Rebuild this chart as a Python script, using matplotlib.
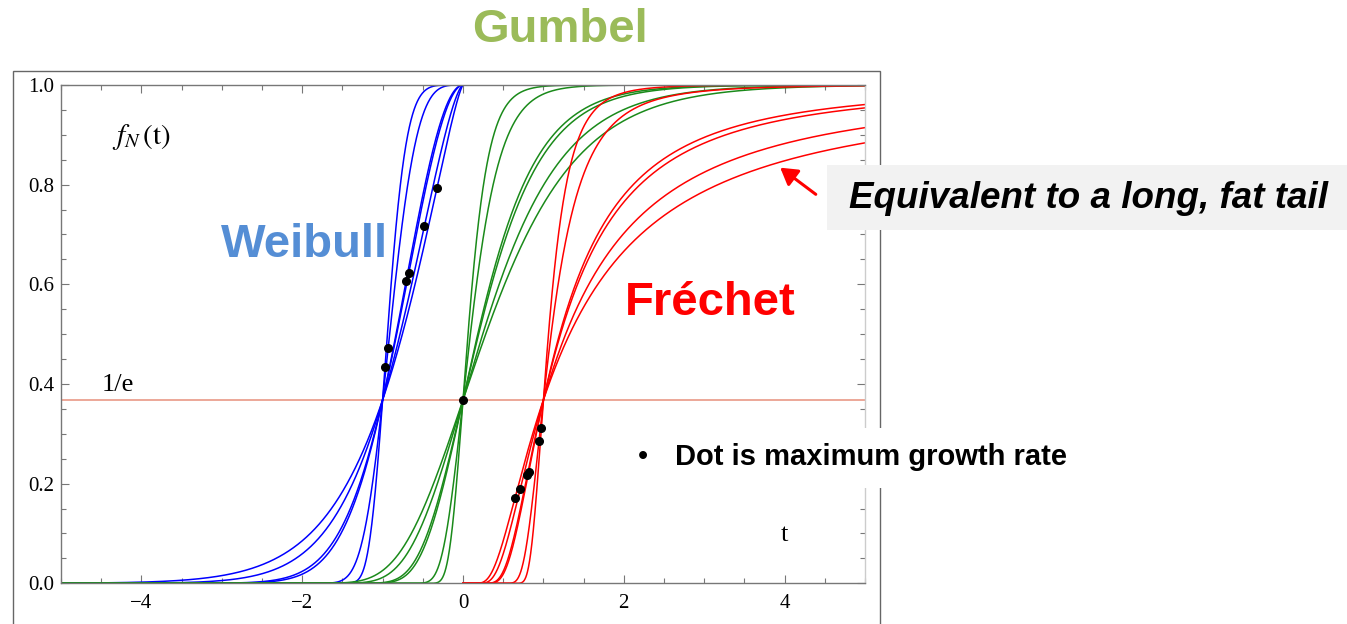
import numpy as np
import matplotlib
matplotlib.use("Agg")
import matplotlib.pyplot as plt
from matplotlib.patches import Rectangle, FancyArrowPatch

weibull_alpha = [1.3, 1.5, 1.9, 2.0, 4.0, 6.0]
gumbel_beta = [0.77, 0.67, 0.53, 0.5, 0.25, 0.17]
frechet_alpha = [1.3, 1.5, 1.9, 2.0, 4.0, 6.0]

x_major = [-4, -2, 0, 2, 4]
y_major = [0.0, 0.2, 0.4, 0.6, 0.8, 1.0]
inv_e = np.exp(-1)

plt.rcParams["mathtext.fontset"] = "stix"
serif = "Liberation Serif"
sans = "Liberation Sans"

fig = plt.figure(figsize=(13.47, 6.24), dpi=100)
ax = fig.add_axes([61 / 1347, 1 - 583.3 / 624, 804 / 1347, 498.3 / 624])

# outer picture frame
fig.add_artist(Rectangle((13 / 1347, -0.1), 867 / 1347, 0.1 + 1 - 71 / 624,
                         transform=fig.transFigure, fill=False,
                         edgecolor="#666666", lw=1.0, zorder=0))

blue, green, red = "#0000ff", "#1a8a1a", "#ff0000"
lw = 1.1

ax.axhline(inv_e, color="#eaa090", lw=1.3, zorder=1)

t_w = np.linspace(-5, 0, 1500)
for a in weibull_alpha:
    ax.plot(t_w, np.exp(-(-t_w) ** a), color=blue, lw=lw, zorder=2)

t_g = np.linspace(-5, 5, 3000)
for b in gumbel_beta:
    ax.plot(t_g, np.exp(-np.exp(-t_g / b)), color=green, lw=lw, zorder=2)

t_f = np.linspace(0.005, 5, 1500)
for a in frechet_alpha:
    tt = np.concatenate([[0.0], t_f])
    ff = np.concatenate([[0.0], np.exp(-t_f ** (-a))])
    ax.plot(tt, ff, color=red, lw=lw, zorder=2)

# dots at maximum growth rate
wa = np.array(weibull_alpha)
fa = np.array(frechet_alpha)
dot_t = np.concatenate([-((wa - 1) / wa) ** (1 / wa), [0.0], (fa / (1 + fa)) ** (1 / fa)])
dot_f = np.concatenate([np.exp(-(wa - 1) / wa), [inv_e], np.exp(-(1 + fa) / fa)])
ax.plot(dot_t, dot_f, "o", color="black", ms=5.5, zorder=4, clip_on=False)

ax.set_xlim(-5, 5)
ax.set_ylim(0, 1)
ax.set_xticks(x_major)
ax.set_xticks(np.arange(-5, 5.01, 0.5), minor=True)
ax.set_yticks(y_major)
ax.set_yticks(np.arange(0, 1.001, 0.05), minor=True)
ax.set_yticklabels([f"{v:.1f}" for v in y_major])
ax.tick_params(which="both", direction="in", top=True, right=True,
               color="#777777", width=0.8, labelcolor="black")
ax.tick_params(which="major", length=6)
ax.tick_params(which="minor", length=3.5)
ax.tick_params(axis="x", pad=8)
ax.tick_params(axis="y", pad=5)
for lab in ax.get_xticklabels() + ax.get_yticklabels():
    lab.set_fontfamily(serif)
    lab.set_fontsize(15)
for side in ["left", "bottom", "top"]:
    ax.spines[side].set_color("#777777")
    ax.spines[side].set_linewidth(1.0)
ax.spines["right"].set_color("#cccccc")
ax.spines["right"].set_linewidth(1.0)
for s in ax.spines.values():
    s.set_zorder(3)

ax.text(-4.5, 0.398, "1/e", fontfamily=serif, fontsize=19, va="center", ha="left")
ax.text(-4.36, 0.895, r"$f_N\,(\mathrm{t})$", fontsize=21, va="center", ha="left")
ax.text(4.0, 0.097, "t", fontfamily=serif, fontsize=19, va="center", ha="center")

# annotations around the plot
fig.text(560 / 1347, 1 - 30 / 624, "Gumbel", fontfamily=sans, fontweight="bold",
         fontsize=34, color="#9bbb59", ha="center", va="center")
fig.text(305 / 1347, 1 - 245 / 624, "Weibull", fontfamily=sans, fontweight="bold",
         fontsize=34, color="#558ed5", ha="center", va="center", zorder=5)
fig.text(710 / 1347, 1 - 303 / 624, "Fréchet", fontfamily=sans, fontweight="bold",
         fontsize=34, color="#ff0000", ha="center", va="center", zorder=5)

fig.add_artist(Rectangle((827 / 1347, 1 - 230 / 624), 520 / 1347, 65 / 624,
                         transform=fig.transFigure, facecolor="#f2f2f2",
                         edgecolor="none", zorder=5))
fig.text(849 / 1347, 1 - 199 / 624, "Equivalent to a long, fat tail", fontfamily=sans,
         fontweight="bold", fontstyle="italic", fontsize=26.5, color="black",
         ha="left", va="center", zorder=6)
fig.add_artist(FancyArrowPatch((818, 624 - 196), (778, 624 - 166),
                               transform=None, arrowstyle="-|>,head_length=10,head_width=6",
                               mutation_scale=1, color="red", lw=2.2, zorder=6))

fig.add_artist(Rectangle((625 / 1347, 1 - 488 / 624), 470 / 1347, 60 / 624,
                         transform=fig.transFigure, facecolor="white",
                         edgecolor="none", zorder=5))
fig.text(638 / 1347, 1 - 457 / 624, "•", fontfamily=sans, fontsize=21,
         ha="left", va="center", zorder=6)
fig.text(675 / 1347, 1 - 457 / 624, "Dot is maximum growth rate", fontfamily=sans,
         fontweight="bold", fontsize=21, ha="left", va="center", zorder=6)

fig.savefig("out.png", dpi=100)
